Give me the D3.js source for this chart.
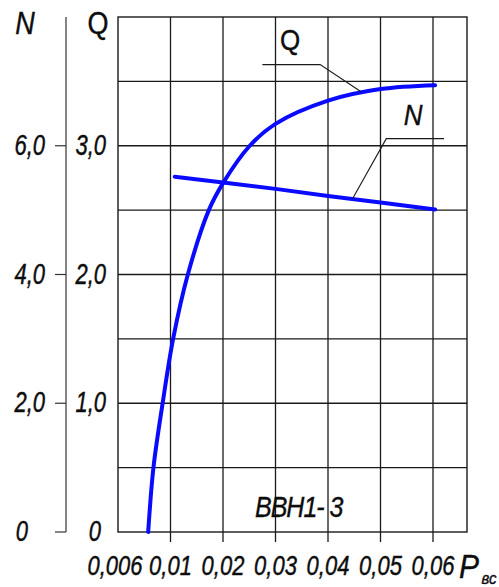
<!DOCTYPE html>
<html>
<head>
<meta charset="utf-8">
<script src="https://cdn.jsdelivr.net/npm/d3@7"></script>
<style>
  body { margin: 0; background: #fff; }
  svg text { font-family: "Liberation Sans", Arial, sans-serif; fill: #0d0d0d; stroke: #0d0d0d; stroke-width: 0.35px; }
</style>
</head>
<body>
<div id="chart"></div>
<script>
// pressure axis ticks (non-uniform, each gets one grid column)
const pTicks = [0.006, 0.01, 0.02, 0.03, 0.04, 0.05, 0.06, 0.07]
const pLabels = ['0,006', '0,01', '0,02', '0,03', '0,04', '0,05', '0,06']
const qTicks = [0, 1, 2, 3]
const qLabels = ['0', '1,0', '2,0', '3,0']
const nTicks = [0, 2, 4, 6]
const nLabels = ['0', '2,0', '4,0', '6,0']

// Q curve
const qP = [0.0083, 0.0087, 0.0094, 0.0105, 0.0133, 0.0173, 0.02, 0.0251, 0.03, 0.04, 0.05, 0.0604]
const qV = [0, 0.5, 1.0, 1.5, 2.0, 2.5, 2.71, 3.0, 3.17, 3.35, 3.44, 3.47]
// N curve
const nP = [0.0108, 0.02, 0.03, 0.04, 0.05, 0.0604]
const nV = [5.52, 5.43, 5.33, 5.22, 5.12, 5.01]

const width = 499, height = 587
const plotL = 118, plotR = 467, plotT = 17, plotB = 532
const step = 52.5

const svg = d3.select('#chart').append('svg')
    .attr('width', width)
    .attr('height', height)

const x = d3.scaleLinear()
    .domain(pTicks)
    .range(pTicks.map((d, i) => plotL + i * step))
const yQ = d3.scaleLinear().domain([0, 4]).range([plotB, plotT])
const yN = d3.scaleLinear().domain([0, 8]).range([plotB, plotT])

// stretched italic text helper (reference glyphs are tall/narrow)
function label(txt, px, py, size, anchor, italic, sy) {
    return svg.append('text')
        .attr('transform', `translate(${px},${py}) scale(1,${sy || 1.25})`)
        .attr('text-anchor', anchor)
        .style('font-size', size + 'px')
        .style('font-style', italic ? 'italic' : 'normal')
        .text(txt)
}

const ink = '#1a1a1a'

// grid
const grid = svg.append('g')
grid.selectAll('.vline')
    .data(pTicks.slice(1, 7))
    .enter().append('line')
    .attr('x1', d => x(d)).attr('x2', d => x(d))
    .attr('y1', plotT).attr('y2', plotB + 10)
    .attr('stroke', ink).attr('stroke-width', 1.3)
grid.selectAll('.hline')
    .data(d3.range(0.5, 4, 0.5))
    .enter().append('line')
    .attr('x1', plotL).attr('x2', plotR)
    .attr('y1', d => yQ(d)).attr('y2', d => yQ(d))
    .attr('stroke', ink).attr('stroke-width', 1.3)
grid.append('rect')
    .attr('x', plotL).attr('y', plotT)
    .attr('width', plotR - plotL).attr('height', plotB - plotT)
    .attr('fill', 'none').attr('stroke', ink).attr('stroke-width', 1.4)

// N axis (separate line on the far left)
const nAxisX = 66
svg.append('line')
    .attr('x1', nAxisX).attr('x2', nAxisX)
    .attr('y1', plotT).attr('y2', plotB)
    .attr('stroke', '#333').attr('stroke-width', 1.2)
svg.selectAll('.ntick')
    .data(nTicks)
    .enter().append('line')
    .attr('x1', nAxisX - 11).attr('x2', nAxisX)
    .attr('y1', d => yN(d)).attr('y2', d => yN(d))
    .attr('stroke', '#333').attr('stroke-width', 1.2)

nTicks.forEach((d, i) => {
    label(nLabels[i], d === 0 ? 28 : 45, yN(d) + 9, 22, 'end', true, 1.3)
})
qTicks.forEach((d, i) => {
    label(qLabels[i], d === 0 ? 101 : 106, yQ(d) + 9, 22, 'end', true, 1.3)
})
pLabels.forEach((t, i) => {
    label(t, x(pTicks[i]) - (i === 0 ? 3 : 0), 575, 22, 'middle', true, 1.27)
})

// axis titles
label('N', 25, 34, 27, 'middle', true, 1.15)
label('Q', 98, 34, 27, 'middle', false, 1.15)
label('P', 469, 578, 30, 'middle', true, 1.1)
label('вс', 489, 584, 15, 'middle', true, 1.1)

// curves
const line = d3.line().curve(d3.curveCatmullRom.alpha(0.5))
svg.append('path')
    .datum(qP.map((p, i) => [x(p), yQ(qV[i])]))
    .attr('d', line)
    .attr('fill', 'none')
    .attr('stroke', '#0a0aff')
    .attr('stroke-width', 4)
    .attr('stroke-linecap', 'round')

svg.append('path')
    .datum(nP.map((p, i) => [x(p), yN(nV[i])]))
    .attr('d', d3.line())
    .attr('fill', 'none')
    .attr('stroke', '#0a0aff')
    .attr('stroke-width', 4)
    .attr('stroke-linecap', 'round')

// leader lines + curve names
const qLeader = [[0.0275, 3.63], [0.0385, 3.63], [0.0463, 3.42]]
const nLeader = [[0.0621, 6.11], [0.0511, 6.11], [0.0447, 5.18]]
svg.append('path')
    .attr('d', d3.line()(qLeader.map(d => [x(d[0]), yQ(d[1])])))
    .attr('fill', 'none').attr('stroke', ink).attr('stroke-width', 1.1)
svg.append('path')
    .attr('d', d3.line()(nLeader.map(d => [x(d[0]), yN(d[1])])))
    .attr('fill', 'none').attr('stroke', ink).attr('stroke-width', 1.1)

label('Q', x(0.0328), yQ(3.74), 26, 'middle', false, 1.15)
label('N', x(0.0562), yN(6.32), 26, 'middle', true, 1.15)

// pump model
label('ВВН1- 3', x(0.0261), yQ(0.12), 25, 'start', true, 1.15)
    .style('letter-spacing', '-1px')
</script>
</body>
</html>
